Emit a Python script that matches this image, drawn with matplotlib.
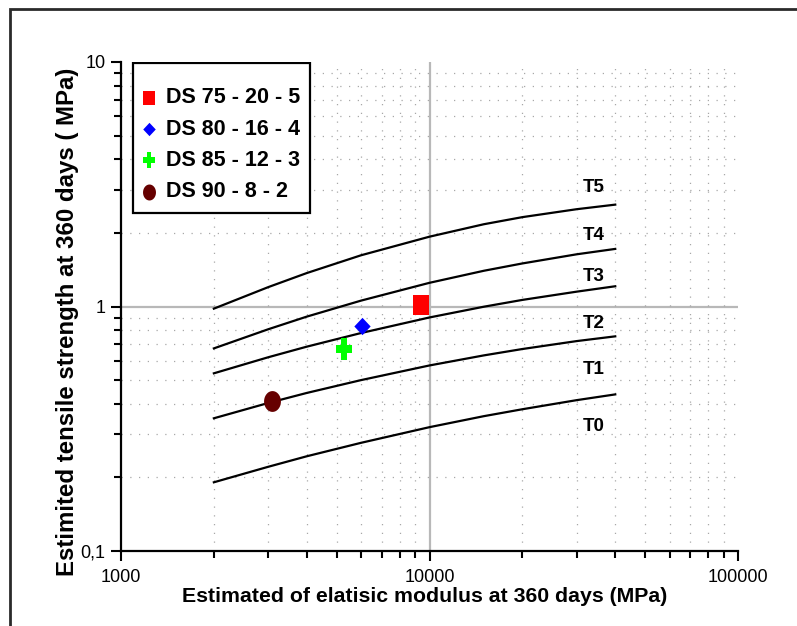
import numpy as np
import matplotlib
matplotlib.use("Agg")
import matplotlib.pyplot as plt
from matplotlib.patches import Rectangle
from matplotlib.ticker import FixedLocator, FixedFormatter, LogLocator, NullFormatter
from matplotlib import font_manager

# ---------------- data ----------------
curve_x = [2000, 3000, 4000, 6000, 10000, 15000, 20000, 30000, 40000]
curve_1 = [0.98, 1.20, 1.37, 1.62, 1.93, 2.17, 2.32, 2.50, 2.61]
curve_2 = [0.674, 0.807, 0.909, 1.057, 1.25, 1.40, 1.50, 1.635, 1.72]
curve_3 = [0.533, 0.620, 0.685, 0.779, 0.902, 0.998, 1.064, 1.15, 1.21]
curve_4 = [0.349, 0.403, 0.443, 0.500, 0.574, 0.631, 0.670, 0.722, 0.755]
curve_5 = [0.191, 0.221, 0.244, 0.277, 0.321, 0.356, 0.380, 0.414, 0.437]

zone_labels = ["T5", "T4", "T3", "T2", "T1", "T0"]
zone_label_y = [3.06, 1.95, 1.33, 0.852, 0.553, 0.324]
zone_label_x = 34000

series_labels = ["DS 75 - 20 - 5", "DS 80 - 16 - 4", "DS 85 - 12 - 3", "DS 90 - 8 - 2"]
series_x = [9360, 6050, 5300, 3080]
series_y = [1.01, 0.831, 0.672, 0.411]
series_colors = ["#ff0000", "#0000ff", "#00ff00", "#660000"]

x_ticks = [1000, 10000, 100000]
x_tick_labels = ["1000", "10000", "100000"]
y_ticks = [0.1, 1, 10]
y_tick_labels = ["0,1", "1", "10"]

x_label = "Estimated of elatisic modulus at 360 days (MPa)"
y_label = "Estimited tensile strength at 360 days ( MPa)"

# ---------------- fonts ----------------
names = {f.name for f in font_manager.fontManager.ttflist}
if "Liberation Sans Narrow" in names:
    FAM = ["Liberation Sans Narrow", "Liberation Sans", "DejaVu Sans"]
else:
    FAM = ["Liberation Sans", "DejaVu Sans"]
plt.rcParams["font.family"] = FAM

# ---------------- custom markers (slightly tall shapes) ----------------
def rect_marker(ax_ratio):
    w = 0.5 * ax_ratio
    return [(-w, -0.5), (w, -0.5), (w, 0.5), (-w, 0.5), (-w, -0.5)]

def diamond_marker(ax_ratio):
    w = 0.5 * ax_ratio
    return [(0, 0.5), (w, 0), (0, -0.5), (-w, 0), (0, 0.5)]

def plus_marker(ax_ratio, t=0.17):
    pts = [(-t, 0.5), (t, 0.5), (t, t), (0.5, t), (0.5, -t), (t, -t), (t, -0.5),
           (-t, -0.5), (-t, -t), (-0.5, -t), (-0.5, t), (-t, t), (-t, 0.5)]
    return [(x * ax_ratio, y) for x, y in pts]

def ellipse_marker(ax_ratio):
    th = np.linspace(0, 2 * np.pi, 61)
    return list(zip(0.5 * ax_ratio * np.cos(th), 0.5 * np.sin(th)))

series_markers = [rect_marker(0.84), diamond_marker(0.94), plus_marker(0.74), ellipse_marker(0.81)]
plot_msizes = [13.7, 12.5, 15.6, 15.0]
leg_msizes = [10.0, 9.6, 11.5, 11.5]

# ---------------- figure ----------------
W, H = 797, 626
fig = plt.figure(figsize=(W / 100, H / 100), dpi=100)
fig.patch.set_facecolor("white")

# outer frame
fig.add_artist(Rectangle((10 / W, -0.1), 1.2, 1.1 - 9 / H, transform=fig.transFigure,
                         fill=False, lw=2.0, ec="#2a2a2a"))

L, R, T, B = 121, 738, 62, 551
ax = fig.add_axes([L / W, 1 - B / H, (R - L) / W, (B - T) / H])
ax.set_xscale("log")
ax.set_yscale("log")
ax.set_xlim(1000, 100000)
ax.set_ylim(0.1, 10)

for s in ["top", "right"]:
    ax.spines[s].set_visible(False)
for s in ["left", "bottom"]:
    ax.spines[s].set_linewidth(1.6)
    ax.spines[s].set_color("black")

ax.xaxis.set_major_locator(FixedLocator(x_ticks))
ax.xaxis.set_major_formatter(FixedFormatter(x_tick_labels))
ax.yaxis.set_major_locator(FixedLocator(y_ticks))
ax.yaxis.set_major_formatter(FixedFormatter(y_tick_labels))
ax.xaxis.set_minor_locator(LogLocator(base=10, subs=range(2, 10)))
ax.yaxis.set_minor_locator(LogLocator(base=10, subs=range(2, 10)))
ax.xaxis.set_minor_formatter(NullFormatter())
ax.yaxis.set_minor_formatter(NullFormatter())
ax.tick_params(which="major", direction="out", length=7, width=1.5, labelsize=12,
               color="black")
ax.tick_params(which="minor", direction="out", length=5, width=1.5, color="black")
ax.tick_params(axis="x", which="major", pad=6)
ax.tick_params(axis="y", which="major", pad=4)

# grids
ax.grid(which="minor", linestyle=(0, (1, 6)), color="#a8a8a8", lw=0.9)
ax.axvline(10000, color="#b8b8b8", lw=1.6, zorder=1)
ax.axhline(1, color="#b8b8b8", lw=1.6, zorder=1)

# curves
for cy in [curve_1, curve_2, curve_3, curve_4, curve_5]:
    ax.plot(curve_x, cy, color="black", lw=1.6, zorder=3)

# zone labels
zone_texts = []
for lab, yy in zip(zone_labels, zone_label_y):
    zone_texts.append(ax.text(zone_label_x, yy, lab, ha="center", va="center",
                              fontsize=13, fontweight="bold", zorder=4))

# series points
for xx, yy, c, m, ms in zip(series_x, series_y, series_colors, series_markers, plot_msizes):
    ax.plot([xx], [yy], linestyle="none", marker=m, markersize=ms, color=c,
            markeredgewidth=0, zorder=5)

# legend (drawn by hand to match layout)
lx0, lx1 = (133 - L) / (R - L), (310 - L) / (R - L)
ly0, ly1 = (B - 213) / (B - T), (B - 62.5) / (B - T)
ax.add_patch(Rectangle((lx0, ly0), lx1 - lx0, ly1 - ly0, transform=ax.transAxes,
                       facecolor="white", edgecolor="black", lw=1.6, zorder=6))
row_px = np.linspace(97.7, 191.7, len(series_labels))
leg_texts = []
for lab, c, m, ms, rp in zip(series_labels, series_colors, series_markers, leg_msizes, row_px):
    yy = (B - rp) / (B - T)
    ax.plot([(149.3 - L) / (R - L)], [yy], transform=ax.transAxes, linestyle="none",
            marker=m, markersize=ms, color=c, markeredgewidth=0, zorder=7, clip_on=False)
    leg_texts.append(ax.text((165.5 - L) / (R - L), yy, lab, transform=ax.transAxes,
                             ha="left", va="center", fontsize=13, fontweight="bold",
                             zorder=7))

# axis labels
xl = fig.text(425 / W, 1 - 597 / H, x_label, ha="center", va="center",
              fontsize=13, fontweight="bold")
yl = fig.text(68 / W, 1 - 322 / H, y_label, ha="center", va="center",
              rotation=90, fontsize=13, fontweight="bold")

# ---------------- fit text sizes to the reference widths ----------------
fig.canvas.draw()
rend = fig.canvas.get_renderer()

def fit(t, target, vertical=False):
    bb = t.get_window_extent(rend)
    w = bb.height if vertical else bb.width
    return t.get_fontsize() * target / w

xl.set_fontsize(fit(xl, 483))
yl.set_fontsize(fit(yl, 508, vertical=True))
fs_leg = fit(leg_texts[0], 134)
for t in leg_texts:
    t.set_fontsize(fs_leg)
fs_zone = fit(zone_texts[0], 22)
for t in zone_texts:
    t.set_fontsize(fs_zone)
fs_tick = fit(ax.get_xticklabels()[-1], 60)
ax.tick_params(which="major", labelsize=fs_tick)

fig.savefig("out.png", dpi=100, facecolor="white")
